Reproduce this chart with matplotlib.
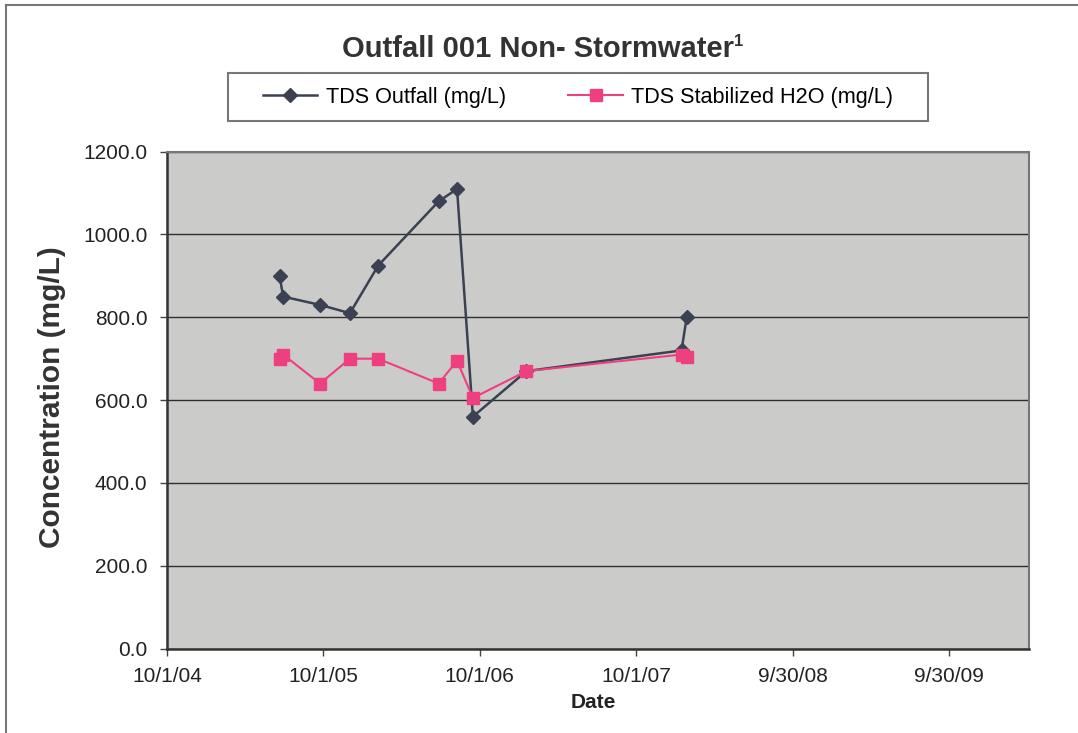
import datetime as dt
import matplotlib
matplotlib.use("Agg")
import matplotlib.pyplot as plt
from matplotlib.lines import Line2D
from matplotlib.patches import Rectangle

plt.rcParams['font.family'] = ['Liberation Sans', 'DejaVu Sans']

# sample dates
dates = [dt.date(2005, 6, 21), dt.date(2005, 6, 29), dt.date(2005, 9, 23),
         dt.date(2005, 12, 2), dt.date(2006, 2, 6), dt.date(2006, 6, 27),
         dt.date(2006, 8, 9), dt.date(2006, 9, 15), dt.date(2007, 1, 18),
         dt.date(2008, 1, 15), dt.date(2008, 1, 27)]
tds_outfall = [900, 850, 830, 810, 925, 1080, 1110, 560, 670, 720, 800]
tds_stabilized = [700, 710, 640, 700, 700, 640, 695, 605, 670, 710, 705]

x_start = dt.date(2004, 10, 1)
x_end = x_start + dt.timedelta(days=2012)
x_ticks = [x_start + dt.timedelta(days=365 * k) for k in range(6)]
y_ticks = [0, 200, 400, 600, 800, 1000, 1200]

dark = '#3b4152'
pink = '#ee3f80'

W, H = 1078, 733
fig = plt.figure(figsize=(W / 100, H / 100), dpi=100)

def fx(px):
    return px / W

def fy(py):
    return 1 - py / H

ax = fig.add_axes([fx(167), fy(648.5), fx(1029) - fx(167), fy(151.7) - fy(648.5)])
ax.set_facecolor('#cbccc9')

ax.plot(dates, tds_outfall, color=dark, lw=1.8, marker='D', ms=7, zorder=3)
ax.plot(dates, tds_stabilized, color=pink, lw=1.5, marker='s', ms=9, zorder=4)

ax.set_xlim(x_start, x_end)
ax.set_ylim(0, 1200)
ax.set_yticks(y_ticks)
ax.set_yticklabels([f"{v:.1f}" for v in y_ticks])
ax.set_xticks(x_ticks)
ax.set_xticklabels([f"{d.month}/{d.day}/{d.year % 100:02d}" for d in x_ticks])
ax.yaxis.grid(True, color='#2e2e2e', lw=1.0)
ax.set_axisbelow(True)
ax.tick_params(axis='both', labelsize=15, length=5, width=1, color='#444444', labelcolor='#222222')
ax.tick_params(axis='y', pad=9)
ax.tick_params(axis='x', pad=8)

for s in ['top', 'right']:
    ax.spines[s].set_color('#777777')
    ax.spines[s].set_linewidth(1.5)
for s in ['left', 'bottom']:
    ax.spines[s].set_color('#333333')
    ax.spines[s].set_linewidth(1.8)

# labels
fig.text(fx(52), fy(397), 'Concentration (mg/L)', rotation=90, ha='center', va='center',
         fontsize=21.5, fontweight='bold', color='#333333')
fig.text(fx(593), fy(703), 'Date', ha='center', va='center',
         fontsize=15, fontweight='bold', color='#222222')

# title with superscript
title = fig.text(fx(538), fy(49), 'Outfall 001 Non- Stormwater', ha='center', va='center',
                 fontsize=21, fontweight='bold', color='#333333')
fig.canvas.draw()
bb = title.get_window_extent()
fig.text(bb.x1 / W, fy(41), '1', ha='left', va='center',
         fontsize=12, fontweight='bold', color='#333333')

# legend
handles = [Line2D([], [], color=dark, lw=1.8, marker='D', ms=7),
           Line2D([], [], color=pink, lw=1.5, marker='s', ms=9)]
fig.legend(handles, ['TDS Outfall (mg/L)', 'TDS Stabilized H2O (mg/L)'],
           loc='center', bbox_to_anchor=(fx(578), fy(97)), ncol=2, frameon=False,
           fontsize=15.6, handlelength=2.5, handletextpad=0.4, columnspacing=2.9)
fig.patches.append(Rectangle((fx(228), fy(121)), fx(928) - fx(228), fy(73) - fy(121),
                             transform=fig.transFigure, fill=False, ec='#777777', lw=1.5))

# outer chart border
fig.add_artist(Line2D([fx(6), fx(6)], [fy(5), 0], transform=fig.transFigure, color='#777777', lw=1.5))
fig.add_artist(Line2D([fx(6), 1], [fy(5), fy(5)], transform=fig.transFigure, color='#777777', lw=1.5))

fig.savefig('out.png', dpi=100)
